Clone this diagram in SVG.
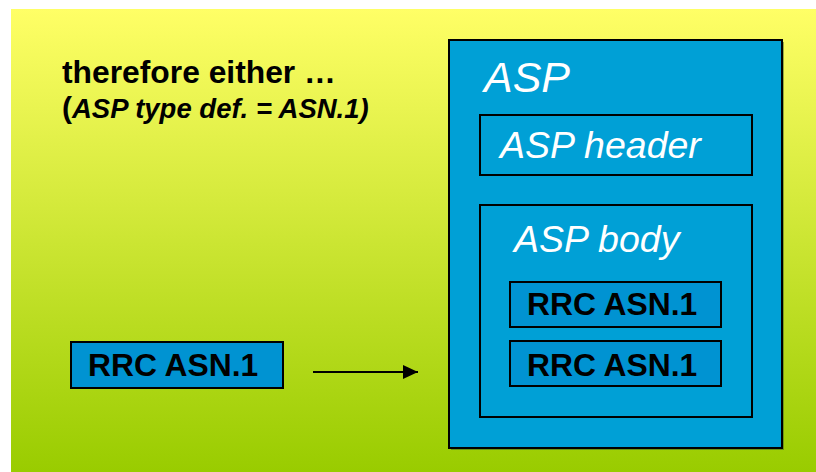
<svg xmlns="http://www.w3.org/2000/svg" width="816" height="472" viewBox="0 0 816 472">
<defs>
<linearGradient id="bg" x1="0" y1="0" x2="0" y2="1">
<stop offset="0" stop-color="#FFFF66"/>
<stop offset="1" stop-color="#99CC00"/>
</linearGradient>
<marker id="ah" markerWidth="15" markerHeight="14" refX="15" refY="7" orient="auto" markerUnits="userSpaceOnUse">
<path d="M0,0 L15,7 L0,14 Z" fill="#000"/>
</marker>
</defs>
<style>
.box{fill:#00A0D6;stroke:#000;stroke-width:2}
.rrc{fill:#0093D2;stroke:#000;stroke-width:2}
.shadow{fill:#3a5a20;opacity:0.5}
.wt{font-family:"Liberation Sans",Arial,sans-serif;font-style:italic;fill:#fff}
.bt{font-family:"Liberation Sans",Arial,sans-serif;font-weight:bold;fill:#000}
</style>
<rect x="11" y="9" width="805" height="463" fill="url(#bg)"/>
<g id="caption">
<text class="bt" x="62" y="83" font-size="31.8">therefore either …</text>
<text class="bt" x="62" y="118" font-size="27.5"><tspan font-size="30">(</tspan><tspan font-style="italic">ASP type def. = ASN.1)</tspan></text>
</g>
<g id="asp">
<rect class="shadow" x="451" y="42" width="333" height="408"/>
<rect class="box" x="449" y="40" width="333" height="408"/>
<text class="wt" x="484" y="92" font-size="43">ASP</text>
</g>
<g id="asp-header">
<rect class="box" x="480" y="115" width="272" height="60"/>
<text class="wt" x="500" y="158" font-size="37.5">ASP header</text>
</g>
<g id="asp-body">
<rect class="box" x="480" y="205" width="272" height="212"/>
<text class="wt" x="514" y="252" font-size="37.5">ASP body</text>
</g>
<g id="rrc-1">
<rect class="rrc" x="510" y="282" width="211" height="45"/>
<text class="bt" x="527" y="315" font-size="31.8">RRC ASN.1</text>
</g>
<g id="rrc-2">
<rect class="rrc" x="510" y="341" width="211" height="45"/>
<text class="bt" x="527" y="376" font-size="31.8">RRC ASN.1</text>
</g>
<g id="rrc-left">
<rect class="rrc" x="71" y="342" width="212" height="46"/>
<text class="bt" x="88" y="376" font-size="31.8">RRC ASN.1</text>
</g>
<g id="connectors">
<line x1="313" y1="372" x2="418" y2="372" stroke="#000" stroke-width="2" marker-end="url(#ah)"/>
</g>
</svg>
